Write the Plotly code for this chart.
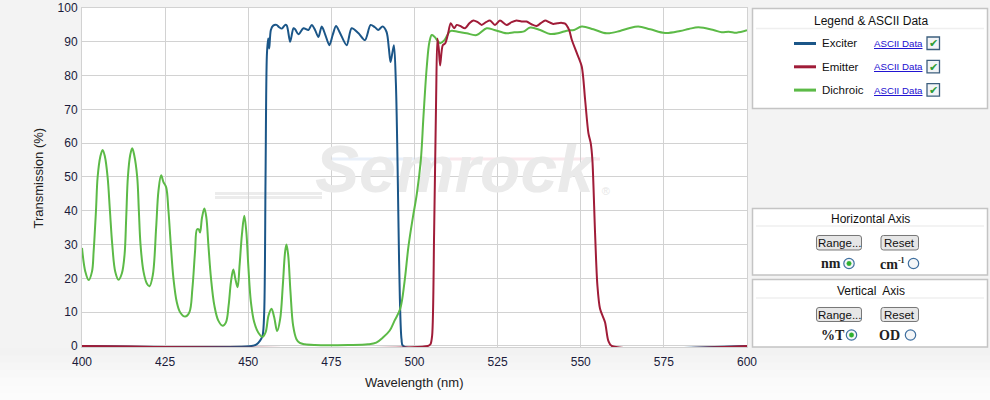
import plotly.graph_objects as go

# ---------------- data ----------------
exciter_nm = [400, 451, 452.5, 453.5, 454.3, 454.8, 455.2, 455.6, 456.0, 456.3, 456.8, 457.5, 458.5,
              459.3, 460.1, 461.1, 461.6, 462.6, 463.6, 464.1, 465.1, 466.6, 468.1, 469.1, 470.1,
              471.1, 472.1, 473.2, 474.4, 475.4, 476.4, 477.6, 479.6, 481.1, 483.1, 485.1, 486.8,
              488.1, 489.1, 490.4, 491.6, 492.3, 492.8, 493.8, 494.4, 494.8, 495.2, 495.6, 496.1,
              496.6, 600]
exciter_T = [0, 0, 0.5, 1.5, 3, 10, 50, 86, 91, 88, 93.5, 94.8, 95,
             94.3, 93.9, 95, 94.8, 90, 94, 93.7, 92.2, 94, 93.5, 95, 93.5,
             91.4, 94.5, 92, 89, 92, 94.7, 92.6, 89, 94, 92.6, 90.5, 95,
             94.3, 93.5, 94.5, 92.9, 88, 84, 89, 77.8, 60, 35, 14, 2,
             0, 0]

emitter_nm = [400, 504, 504.8, 505.3, 505.9, 506.5, 506.9, 507.3, 507.7, 508.5, 509.2, 510, 510.9,
              511.9, 512.7, 513.7, 515.2, 516.5, 517.7, 519, 520.2, 521.5, 522.7, 524.2, 525.7,
              527.7, 529.2, 530.7, 532.2, 533.7, 535.2, 536.7, 538, 539.3, 540.5, 541.7, 543,
              544.2, 545.3, 546.5, 547.3, 548.8, 550.3, 551.3, 552.3, 553, 553.5, 554.3, 555,
              555.8, 557.3, 558.3, 559.3, 600]
emitter_T = [0, 0, 0.5, 3, 33.5, 73, 91, 88, 83, 89, 89.5, 92, 95.5,
             94, 95, 94.7, 94, 95.5, 96.3, 95.8, 95, 95.8, 96.3, 95, 96.3,
             95, 95.8, 96.3, 96, 96, 95.2, 94.7, 95.5, 96.3, 95.8, 95.3, 95.5,
             95.6, 95.4, 93.5, 90.6, 86.7, 82.7, 73, 63, 60, 55, 33.5, 18,
             11, 7, 1.5, 0, 0]

dichroic_nm = [400, 401, 402, 403, 403.5, 404.2, 404.7, 405.5, 406.2, 406.9, 407.7, 408.4, 409.1,
               410, 411, 412, 412.8, 413.3, 413.8, 414.5, 415.1, 415.7, 416.6, 417.1, 417.6, 418.5,
               419.5, 420.3, 421.3, 422.3, 423, 423.8, 424.5, 425.3, 426, 426.7, 427.5, 428.5,
               429.5, 431, 432.3, 433.2, 434, 434.6, 435.1, 435.5, 436.1, 436.8, 437.4, 438, 438.8,
               439.8, 441, 442.3, 443.3, 444.1, 444.8, 445.5, 446.1, 446.8, 447.4, 448.1, 448.8,
               449.4, 450, 450.8, 451.8, 453, 454.3, 455.2, 456.1, 457, 457.8, 458.7, 459.6, 460.4,
               461.1, 461.5, 462, 462.7, 463.5, 464.5, 465.5, 467, 470, 480, 486, 488.5,
               490.5, 492.5, 494, 495.7, 497, 498.2, 499.5, 500.7, 501.9, 502.7, 503.7, 504.5,
               505.2, 506, 507.7, 509, 510.5, 511.2, 513, 515.7, 518.7, 521.7, 524, 527.7, 530,
               532.7, 534.8, 537.8, 540.8, 543.5, 545.8, 548, 550.3, 553.8, 557.8, 561.8, 564.5,
               567.3, 570.9, 575.4, 579.9, 582.5, 585.4, 589.9, 592.4, 594.5, 596.9, 600]
dichroic_T = [29, 22, 19.5, 22, 28, 40, 50, 56, 58, 56, 50, 40, 30,
              22, 19.6, 21.5, 27, 38, 50, 56.5, 58.5, 56.5, 50, 40, 30, 22,
              18.5, 17.7, 21, 35, 46, 50.5, 48.5, 47, 40, 30, 20, 13,
              10, 8.7, 10, 17, 28, 34.5, 34.5, 33.6, 38, 40.7, 38, 30, 20,
              12, 7.5, 6, 7, 12, 19, 22.6, 20, 17.4, 24, 33, 38.5,
              34, 24, 13, 7, 4, 2.7, 4, 9, 11, 8.5, 4.4, 8, 18,
              28, 30, 27, 16, 6, 2, 0.9, 0.5, 0.3, 0.3, 0.5, 1,
              2.5, 4.5, 7.5, 11, 19, 29.6, 38, 45, 55, 68, 82.7, 90,
              92, 91.5, 89.6, 90.5, 93, 93.3, 93, 92.5, 92, 94, 93.5, 92.5, 92.8,
              93, 94.2, 93.5, 92.3, 92.6, 93.3, 93.5, 94.5, 93.7, 92.5, 93.2, 94,
              94.5, 93.7, 92.6, 93.2, 93.8, 94.3, 93.5, 92.8, 93, 92.7, 93.4]

series_names = ["Exciter", "Emitter", "Dichroic"]
x_ticks = [400, 425, 450, 475, 500, 525, 550, 575, 600]
y_ticks = [0, 10, 20, 30, 40, 50, 60, 70, 80, 90, 100]

C_EXC = "#1b5688"
C_EMI = "#a01c38"
C_DIC = "#5cba47"

# ---------------- geometry helpers (pixel -> paper) ----------------
L, R, T, B = 82, 747, 8, 347
W_, H_ = R - L, B - T


def X(px):
    return (px - L) / W_


def Y(py):
    return (B - py) / H_


def rrect(x0, y0, x1, y1, r):
    pts = [
        ("M", x0 + r, y0), ("L", x1 - r, y0), ("Q", x1, y0, x1, y0 + r),
        ("L", x1, y1 - r), ("Q", x1, y1, x1 - r, y1), ("L", x0 + r, y1),
        ("Q", x0, y1, x0, y1 - r), ("L", x0, y0 + r), ("Q", x0, y0, x0 + r, y0),
    ]
    s = ""
    for p in pts:
        cmd = p[0]
        coords = p[1:]
        parts = []
        for i in range(0, len(coords), 2):
            parts.append(f"{X(coords[i]):.5f},{Y(coords[i+1]):.5f}")
        s += cmd + " " + " ".join(parts) + " "
    return s + "Z"


fig = go.Figure()

# watermark (drawn first so the curves sit on top)
fig.add_trace(go.Scatter(x=[512.0], y=[50.5], mode="text", text=["<b><i>Semrock</i></b>"],
                         textfont=dict(size=66, color="#eaeaea", family="Liberation Sans"),
                         hoverinfo="skip", showlegend=False))
fig.add_trace(go.Scatter(x=[557.5], y=[45.5], mode="text", text=["®"],
                         textfont=dict(size=11, color="#e6e6e6", family="Liberation Sans"),
                         hoverinfo="skip", showlegend=False))

fig.add_trace(go.Scatter(x=exciter_nm, y=exciter_T, mode="lines", name=series_names[0],
                         line=dict(color=C_EXC, width=2, shape="spline", smoothing=0.8),
                         showlegend=False))
fig.add_trace(go.Scatter(x=dichroic_nm, y=dichroic_T, mode="lines", name=series_names[2],
                         line=dict(color=C_DIC, width=2, shape="spline", smoothing=1.0),
                         showlegend=False))
fig.add_trace(go.Scatter(x=emitter_nm, y=emitter_T, mode="lines", name=series_names[1],
                         line=dict(color=C_EMI, width=2, shape="spline", smoothing=0.8),
                         showlegend=False))

shapes = []
ann = []

# background shading below the plot (lighter towards the bottom)
bands = ["#f2f2f2", "#f4f4f4", "#f6f6f6", "#f8f8f8", "#fafafa", "#fbfbfb", "#fcfcfc"]
step = (400 - 348) / len(bands)
for i, col in enumerate(bands):
    shapes.append(dict(type="rect", xref="paper", yref="paper", layer="below",
                       x0=X(0), x1=X(990), y0=Y(348 + i * step), y1=Y(348 + (i + 1) * step + 0.5),
                       fillcolor=col, line=dict(width=0)))

# watermark swoosh lines
for yy, c in [(193.5, "#ececec"), (197.5, "#ececec")]:
    shapes.append(dict(type="line", xref="paper", yref="paper", layer="below",
                       x0=X(215), x1=X(322), y0=Y(yy), y1=Y(yy), line=dict(color=c, width=3)))
shapes.append(dict(type="line", xref="paper", yref="paper", layer="below",
                   x0=X(330), x1=X(450), y0=Y(159), y1=Y(159), line=dict(color="#e8eff9", width=3)))
shapes.append(dict(type="line", xref="paper", yref="paper", layer="below",
                   x0=X(450), x1=X(600), y0=Y(159), y1=Y(159), line=dict(color="#f9e8ec", width=3)))

# ---------- panels ----------
panels = [(752.5, 8.5, 987.5, 108.5), (752.5, 208.5, 987.5, 275), (752.5, 279.5, 987.5, 347)]
for (a, b, c, d) in panels:
    shapes.append(dict(type="rect", xref="paper", yref="paper", x0=X(a), x1=X(c), y0=Y(b), y1=Y(d),
                       fillcolor="white", line=dict(color="#c4c4c4", width=1.5), layer="below"))
for sy in [28.5, 226, 298]:
    shapes.append(dict(type="line", xref="paper", yref="paper", x0=X(756), x1=X(984),
                       y0=Y(sy), y1=Y(sy), line=dict(color="#efefef", width=1.5)))

FONT = "Liberation Sans, Arial, sans-serif"
SERIF = "Liberation Serif, Times New Roman, serif"


def text(px, py, s, size=12, color="#222222", xanchor="center", family=FONT):
    ann.append(dict(xref="paper", yref="paper", x=X(px), y=Y(py), text=s, showarrow=False,
                    xanchor=xanchor, yanchor="middle", font=dict(size=size, color=color, family=family)))


text(870.5, 20.5, "Legend & ASCII Data", 12, "#111111")
for i, (nm, col) in enumerate([(series_names[0], C_EXC), (series_names[1], C_EMI), (series_names[2], C_DIC)]):
    yy = 43.5 + i * 23.3
    shapes.append(dict(type="line", xref="paper", yref="paper", x0=X(794), x1=X(816),
                       y0=Y(yy), y1=Y(yy), line=dict(color=col, width=3)))
    text(820, yy, nm, 11.5, "#111111", "left")
    text(871.5, yy, "<u>ASCII Data</u>", 9.7, "#1a0dd0", "left")
    shapes.append(dict(type="rect", xref="paper", yref="paper", x0=X(927), x1=X(939.5),
                       y0=Y(yy - 6.5), y1=Y(yy + 6), fillcolor="#f2f4f6",
                       line=dict(color="#3d5f7e", width=1.3)))
    text(933.3, yy, "✔", 10.5, "#2f9e35")

# axis control panels
text(870.5, 219, "Horizontal Axis", 12, "#111111")
text(870.5, 290.5, "Vertical  Axis", 12, "#111111")
for by in [(235.5, 250), (307.5, 321.5)]:
    for bx in [(816.5, 861.5), (881, 918.5)]:
        shapes.append(dict(type="path", xref="paper", yref="paper",
                           path=rrect(bx[0], by[0], bx[1], by[1], 2.5),
                           fillcolor="#e6e6e6", line=dict(color="#777777", width=1)))
    text(839, (by[0] + by[1]) / 2 + 0.5, "Range...", 11.5, "#111111")
    text(899.75, (by[0] + by[1]) / 2 + 0.5, "Reset", 11.5, "#111111")

text(842.5, 263.5, "<b>nm</b>", 14, "#222222", "right", SERIF)
text(907, 263.5, "<b>cm<sup><span style='font-size:8px'>-1</span></sup></b>", 14, "#222222", "right", SERIF)
text(847, 335, "<b>%T</b>", 14, "#222222", "right", SERIF)
text(902, 335, "<b>OD</b>", 14, "#222222", "right", SERIF)

radios = [(849, 263.5, True), (913.5, 263.5, False), (851.5, 335, True), (910.5, 335, False)]
for (cx, cy, sel) in radios:
    r = 5.2
    shapes.append(dict(type="circle", xref="paper", yref="paper", x0=X(cx - r), x1=X(cx + r),
                       y0=Y(cy - r), y1=Y(cy + r), fillcolor="#f4f6f8",
                       line=dict(color="#3f6f9f", width=1.2)))
    if sel:
        r2 = 2.2
        shapes.append(dict(type="circle", xref="paper", yref="paper", x0=X(cx - r2), x1=X(cx + r2),
                           y0=Y(cy - r2), y1=Y(cy + r2), fillcolor="#2fb02f",
                           line=dict(color="#2fb02f", width=0.5)))

# axis titles
ann.append(dict(xref="paper", yref="paper", x=X(37.5), y=Y(178), text="Transmission (%)",
                textangle=-90, showarrow=False, xanchor="center", yanchor="middle",
                font=dict(size=13, color="#222222", family=FONT)))
text(414.5, 382.5, "Wavelength (nm)", 13, "#222222")

fig.update_layout(
    width=990, height=400,
    margin=dict(l=L, r=990 - R, t=T, b=400 - B, pad=0, autoexpand=False),
    paper_bgcolor="#f3f3f3", plot_bgcolor="white",
    font=dict(family=FONT, size=12, color="#1a1a3a"),
    shapes=shapes, annotations=ann, showlegend=False,
    xaxis=dict(range=[400, 600], tickvals=x_ticks, ticktext=[str(v) for v in x_ticks],
               showgrid=True, gridcolor="#d2d2d2", gridwidth=1, zeroline=False, automargin=False,
               showline=True, linecolor="#d2d2d2", mirror=True, ticks="outside", ticklen=4,
               layer="below traces",
               tickcolor="rgba(0,0,0,0)", tickfont=dict(size=12, color="#1a1a3a"), fixedrange=True),
    yaxis=dict(range=[-0.3, 100], tickvals=y_ticks, ticktext=[str(v) for v in y_ticks],
               showgrid=True, gridcolor="#d2d2d2", gridwidth=1, zeroline=False, automargin=False,
               showline=True, linecolor="#d2d2d2", mirror=True, ticks="outside", ticklen=1,
               layer="below traces",
               tickcolor="rgba(0,0,0,0)", tickfont=dict(size=12, color="#1a1a3a"), fixedrange=True),
)

fig.write_html("out.html", config={"displayModeBar": False},
               post_script="document.body.style.margin='0';")
